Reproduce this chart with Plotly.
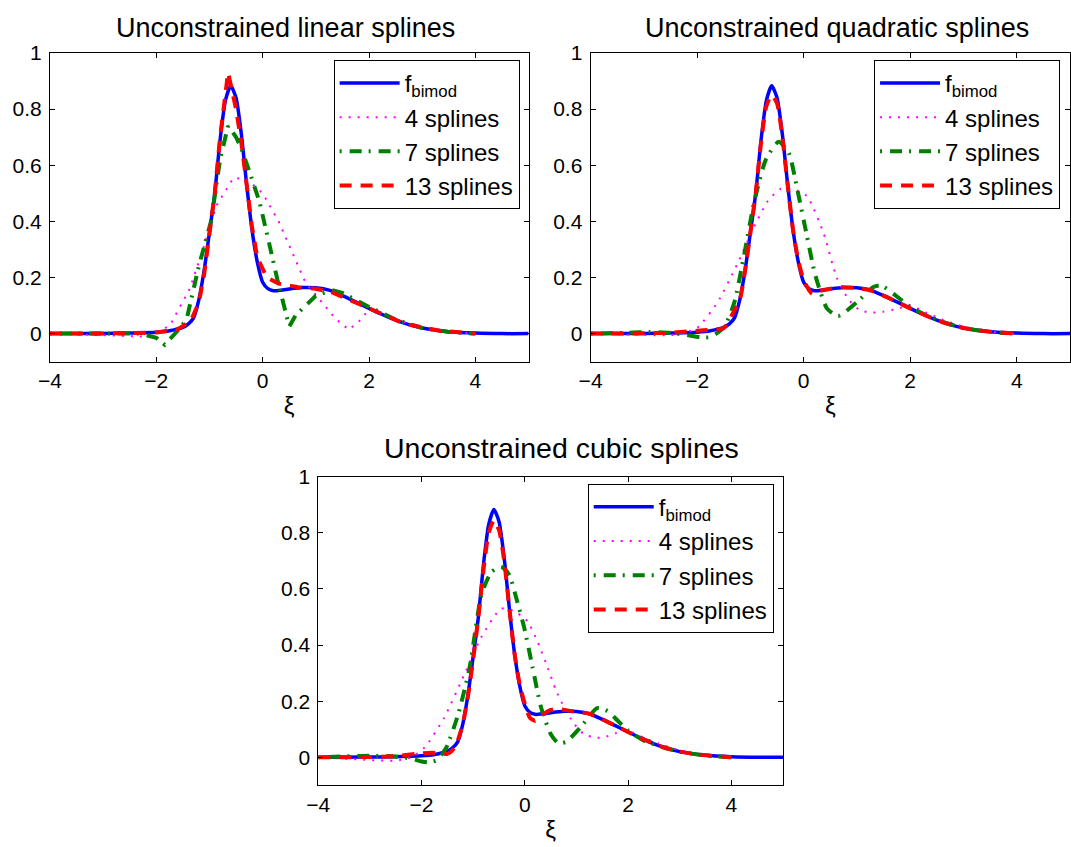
import plotly.graph_objects as go

# ---------------- data ----------------
bimod_x = [-4, -3, -2.5, -2, -1.75, -1.5, -1.4, -1.3, -1.2, -1.1, -1.0, -0.9, -0.8, -0.7,
           -0.6, -0.5, -0.4, -0.3, -0.2, -0.1, 0.0, 0.1, 0.2, 0.35, 0.5, 0.75, 1.0, 1.25,
           1.5, 1.75, 2.0, 2.25, 2.5, 2.75, 3.0, 3.5, 4.0, 4.5, 5.0]
bimod_y = [0, 0.0005, 0.002, 0.005, 0.01, 0.022, 0.034, 0.055, 0.12, 0.225, 0.36, 0.5, 0.69,
           0.83, 0.883, 0.84, 0.71, 0.53, 0.37, 0.255, 0.183, 0.16, 0.153, 0.155, 0.159,
           0.164, 0.163, 0.155, 0.135, 0.113, 0.09, 0.068, 0.048, 0.032, 0.02, 0.007, 0.002,
           0.0, 0.0]

# linear splines
lin4_x = [-4, -3, -2.3, -2.0, -1.74, -1.37, -1.12, -0.87, -0.55, -0.3, 0.0, 0.3, 0.56, 0.81,
          1.06, 1.37, 1.62, 1.87, 2.0, 2.5, 3.0, 3.5, 4.0]
lin4_y = [0, -0.005, -0.01, 0.0, 0.03, 0.16, 0.3, 0.455, 0.555, 0.55, 0.5, 0.4, 0.29, 0.18,
          0.124, 0.053, 0.014, 0.053, 0.09, 0.05, 0.02, 0.006, 0]
lin7_x = [-4, -3, -2.3, -2.0, -1.84, -1.6, -1.43, -1.2, -0.97, -0.8, -0.65, -0.5, -0.4, -0.2,
          -0.06, 0.1, 0.28, 0.5, 0.62, 1.0, 1.3, 1.5, 2.0, 2.5, 3.0, 3.5, 4.0]
lin7_y = [0, 0.001, 0.0, -0.015, -0.04, 0.01, 0.05, 0.24, 0.40, 0.62, 0.74, 0.70, 0.66, 0.55,
          0.47, 0.34, 0.19, 0.025, 0.065, 0.135, 0.155, 0.145, 0.095, 0.05, 0.02, 0.006, 0]
lin13_x = [-4, -3.33, -2.67, -2.0, -1.6, -1.35, -1.2, -1.1, -1.0, -0.9, -0.8, -0.65, -0.5,
           -0.4, -0.3, -0.2, -0.1, 0.08, 0.3, 0.67, 1.0, 1.33, 2.0, 2.67, 3.33, 4.0]
lin13_y = [0, 0, 0.001, 0.004, 0.015, 0.045, 0.11, 0.21, 0.35, 0.5, 0.7, 0.93, 0.8, 0.68,
           0.53, 0.38, 0.27, 0.2, 0.178, 0.165, 0.16, 0.145, 0.09, 0.035, 0.01, 0]

# quadratic splines
quad4_x = [-4, -3, -2.5, -2.2, -2.0, -1.62, -1.24, -0.93, -0.68, -0.44, -0.2, 0.06, 0.37,
           0.62, 0.85, 1.06, 1.3, 1.5, 1.75, 2.0, 2.3, 2.6, 3.0, 3.5, 4.0]
quad4_y = [0, -0.005, -0.005, 0.005, 0.02, 0.11, 0.25, 0.38, 0.47, 0.515, 0.515, 0.49, 0.36,
           0.2, 0.12, 0.083, 0.075, 0.078, 0.088, 0.1, 0.075, 0.05, 0.025, 0.007, 0]
quad7_x = [-4, -3.3, -2.9, -2.5, -2.2, -1.93, -1.74, -1.49, -1.3, -1.12, -0.93, -0.71, -0.47,
           -0.28, -0.12, 0.06, 0.22, 0.44, 0.65, 1.0, 1.31, 1.45, 1.7, 2.0, 2.3, 2.6, 3.0,
           3.5, 4.0]
quad7_y = [0, 0.003, 0.006, 0.003, -0.005, -0.013, -0.012, 0.024, 0.112, 0.278, 0.467, 0.62,
           0.683, 0.644, 0.514, 0.349, 0.207, 0.089, 0.063, 0.112, 0.166, 0.172, 0.14, 0.095,
           0.065, 0.042, 0.02, 0.006, 0]
quad13_x = [-4, -3, -2.5, -2.0, -1.75, -1.52, -1.45, -1.35, -1.2, -1.1, -1.0, -0.9, -0.8,
            -0.7, -0.6, -0.5, -0.4, -0.3, -0.2, -0.1, 0.0, 0.1, 0.16, 0.3, 0.5, 0.7, 1.0,
            1.25, 1.5, 1.75, 2.0, 2.25, 2.5, 2.75, 3.0, 3.5, 4.0]
quad13_y = [0, 0.001, 0.003, 0.01, 0.014, 0.018, 0.03, 0.065, 0.12, 0.225, 0.36, 0.5, 0.68,
            0.81, 0.85, 0.82, 0.7, 0.53, 0.37, 0.26, 0.19, 0.155, 0.142, 0.152, 0.16, 0.165,
            0.162, 0.155, 0.135, 0.113, 0.09, 0.068, 0.048, 0.032, 0.02, 0.007, 0]

# cubic splines
cub4_x = [-4, -3.5, -3.0, -2.5, -2.2, -1.94, -1.56, -1.17, -0.85, -0.46, -0.2, 0.05, 0.25,
          0.44, 0.6, 0.76, 0.95, 1.14, 1.35, 1.53, 1.75, 1.92, 2.1, 2.3, 2.6, 3.0, 3.5, 4.0]
cub4_y = [0, -0.005, -0.01, -0.012, 0.0, 0.035, 0.142, 0.296, 0.426, 0.53, 0.52, 0.485, 0.41,
          0.32, 0.24, 0.178, 0.12, 0.083, 0.07, 0.071, 0.085, 0.095, 0.088, 0.07, 0.048,
          0.025, 0.007, 0]
cub7_x = [-4, -3, -2.5, -2.2, -2.0, -1.87, -1.7, -1.52, -1.29, -1.07, -0.84, -0.65, -0.46,
          -0.3, -0.2, -0.01, 0.15, 0.31, 0.5, 0.65, 0.8, 1.08, 1.4, 1.6, 1.8, 2.0, 2.3, 2.6,
          3.0, 3.5, 4.0]
cub7_y = [0, 0.005, 0.003, -0.005, -0.015, -0.018, -0.01, 0.035, 0.154, 0.32, 0.58, 0.66,
          0.68, 0.65, 0.59, 0.46, 0.32, 0.18, 0.083, 0.05, 0.055, 0.107, 0.175, 0.165, 0.13,
          0.095, 0.06, 0.04, 0.02, 0.006, 0]
cub13_x = [-4, -3, -2.5, -2.1, -1.8, -1.5, -1.4, -1.3, -1.2, -1.1, -1.0, -0.9, -0.8, -0.7,
           -0.6, -0.5, -0.4, -0.3, -0.2, -0.1, 0.0, 0.1, 0.2, 0.3, 0.45, 0.6, 0.8, 1.0,
           1.25, 1.5, 1.75, 2.0, 2.25, 2.5, 2.75, 3.0, 3.5, 4.0]
cub13_y = [0, 0.001, 0.004, 0.012, 0.016, 0.012, 0.025, 0.06, 0.12, 0.22, 0.35, 0.5, 0.67,
           0.8, 0.845, 0.81, 0.7, 0.53, 0.37, 0.26, 0.19, 0.14, 0.13, 0.145, 0.165, 0.172,
           0.168, 0.162, 0.155, 0.135, 0.113, 0.09, 0.068, 0.048, 0.032, 0.02, 0.007, 0]

titles = ["Unconstrained linear splines", "Unconstrained quadratic splines",
          "Unconstrained cubic splines"]
names = ["f<sub>bimod</sub>", "4 splines", "7 splines", "13 splines"]
x_ticks = [-4, -2, 0, 2, 4]
y_ticks = [0, 0.2, 0.4, 0.6, 0.8, 1]

# ---------------- figure ----------------
W, H = 1071, 847
# the page shows the figure offset by the default 8px body margin and scaled to fit;
# convert target screen pixels to figure pixels
KX, KY = W / (W + 8), H / (H + 8)


def px(s):
    return s / KX - 8


def py(s):
    return s / KY - 8


FONT = "Liberation Sans, Arial, Helvetica, sans-serif"
fig = go.Figure()

panels = [
    ("x", "y", "legend", (lin4_x, lin4_y), (lin7_x, lin7_y), (lin13_x, lin13_y), "linear"),
    ("x2", "y2", "legend2", (quad4_x, quad4_y), (quad7_x, quad7_y), (quad13_x, quad13_y), "spline"),
    ("x3", "y3", "legend3", (cub4_x, cub4_y), (cub7_x, cub7_y), (cub13_x, cub13_y), "spline"),
]

styles = [
    dict(color="rgb(0,0,255)", width=3.5, dash="solid"),
    dict(color="rgb(255,0,255)", width=2, dash="2px,7px"),
    dict(color="rgb(0,128,0)", width=4, dash="2px,8px,12px,7px"),
    dict(color="rgb(255,0,0)", width=4, dash="12px,9px"),
]

for xa, ya, lg, s4, s7, s13, shape in panels:
    series = [(bimod_x, bimod_y, "spline"), (s4[0], s4[1], shape), (s7[0], s7[1], shape),
              (s13[0], s13[1], shape)]
    for (sx, sy, shp), nm, st in zip(series, names, styles):
        fig.add_trace(go.Scatter(
            x=sx, y=sy, mode="lines", name=nm, xaxis=xa, yaxis=ya, legend=lg,
            line=dict(color=st["color"], width=st["width"], dash=st["dash"], shape=shp,
                      smoothing=0.6 if shp == "spline" else None),
        ))

# axis boxes in screen pixels: (left, right), (top, bottom)
doms = [
    ((46, 527), (49, 359.3)),
    ((589.3, 1071), (49, 359.3)),
    ((315.7, 782.7), (475, 785)),
]
title_pos = [(282.5, 24, 27), (836.7, 24, 27), (560, 446.5, 28.5)]
legend_pos = [(518, 56), (1061, 56), (773.3, 482)]

axis_common = dict(
    showline=True, linecolor="black", linewidth=1, mirror="ticks",
    ticks="inside", ticklen=5, tickwidth=1, tickcolor="black",
    showgrid=False, zeroline=False,
    tickfont=dict(family=FONT, size=21, color="black"),
)

layout = dict(
    width=W, height=H, margin=dict(l=0, r=0, t=0, b=0),
    paper_bgcolor="white", plot_bgcolor="white",
    font=dict(family=FONT, color="black"),
    annotations=[],
)

for i, ((x0, x1), (yt, yb)) in enumerate(doms):
    sfx = "" if i == 0 else str(i + 1)
    layout["xaxis" + sfx] = dict(
        axis_common, domain=[px(x0) / W, min(px(x1) / W, 1.0)], range=[-4, 5],
        tickvals=x_ticks, anchor="y" + sfx, ticklabelstandoff=0,
        title=dict(text="ξ", font=dict(family=FONT, size=24, color="black"), standoff=6),
    )
    layout["yaxis" + sfx] = dict(
        axis_common, domain=[1 - py(yb) / H, 1 - py(yt) / H], range=[-0.1, 1],
        tickvals=y_ticks, anchor="x" + sfx, ticklabelstandoff=3,
    )
    tx, ty, tsize = title_pos[i]
    layout["annotations"].append(dict(
        text=titles[i], xref="paper", yref="paper",
        x=px(tx) / W, y=1 - py(ty) / H,
        xanchor="center", yanchor="middle", showarrow=False,
        font=dict(family=FONT, size=tsize, color="black"),
    ))

for i, (lx, ly) in enumerate(legend_pos):
    key = "legend" if i == 0 else "legend" + str(i + 1)
    layout[key] = dict(
        x=px(lx) / W, y=1 - py(ly) / H, xanchor="right", yanchor="top",
        bgcolor="white", bordercolor="black", borderwidth=1,
        font=dict(family=FONT, size=24, color="black"),
        itemwidth=60, tracegroupgap=0,
    )

fig.update_layout(**layout)
fig.write_html("out.html")
